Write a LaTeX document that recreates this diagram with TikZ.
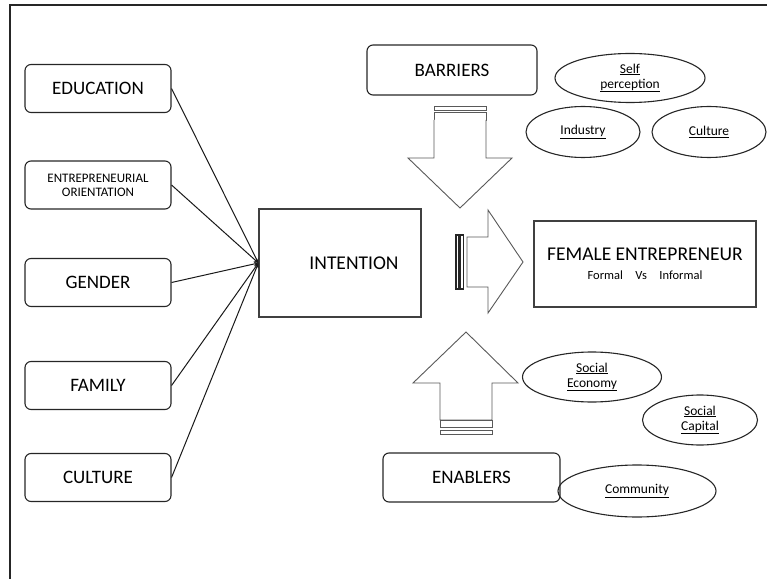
\documentclass[tikz,border=0pt]{standalone}
\usepackage{fontspec}
\setmainfont{Carlito}
\usetikzlibrary{shapes.geometric}
\tikzset{
	frame/.style={draw=black!85,line width=1.1pt},
	factor/.style={draw=black!85,line width=1.1pt,rounded corners=6pt,minimum width=146pt,minimum height=48pt,inner sep=2pt,align=center,font=\fontsize{19}{22}\selectfont},
	mainbox/.style={draw=black!75,line width=1.2pt,inner sep=2pt,align=center,font=\fontsize{19.5}{22}\selectfont},
	pill/.style={ellipse,draw=black!85,line width=1.1pt,inner sep=0pt,align=center,font=\fontsize{13.5}{15}\selectfont},
	block/.style={draw=black!65,line width=0.9pt,fill=white,line join=miter},
	link/.style={->,draw=black!90,line width=1pt}
}
\begin{document}
\begin{tikzpicture}[>=stealth,x=1pt,y=1pt]
	\useasboundingbox (0,0) rectangle (767,579);
	\draw[frame] (767,574)--(10,574)--(10,0);
	% left column
	\node[factor] (edu) at (98,490.5) {EDUCATION};
	\node[factor,font=\fontsize{13}{14}\selectfont] (orient) at (98,394) {ENTREPRENEURIAL\\ORIENTATION};
	\node[factor] (gender) at (98,296.5) {GENDER};
	\node[factor] (family) at (98,193.5) {FAMILY};
	\node[factor] (culture) at (98,101.5) {CULTURE};
	\node[mainbox,minimum width=162pt,minimum height=108pt] (intent) at (340,316) {\hspace*{28pt}INTENTION};
	\node[mainbox,minimum width=222pt,minimum height=86pt] (female) at (645,315) {FEMALE ENTREPRENEUR\\[-3pt]{\fontsize{12.5}{14}\selectfont Formal\quad Vs\quad Informal}};
	\foreach \n in {edu,orient,gender,family,culture}\draw[link] (\n.east)--(intent.west);
	% barriers
	\node[factor,minimum width=170pt,minimum height=50pt] (barr) at (452,509) {BARRIERS};
	\node[pill,minimum width=150pt,minimum height=49pt] (self) at (630,501) {\underline{Self}\\\underline{perception}};
	\node[pill,minimum width=114pt,minimum height=51pt] (industry) at (583,447) {\underline{Industry}};
	\node[pill,minimum width=114pt,minimum height=51pt] (cult) at (709,447) {\underline{Culture}};
	\draw[block] (434,473) rectangle (486,468.5);
	\draw[block] (434,466.5) rectangle (486,459);
	\draw[block] (434,459)--(434,421)--(408,421)--(460,371)--(512,421)--(486,421)--(486,459);
	% arrow to the outcome
	\draw[block,draw=black!85,line width=1.2pt] (456,344) rectangle (459,290);
	\draw[block,draw=black!85,line width=1.2pt] (460.5,344) rectangle (463.5,290);
	\draw[block] (467,342)--(488,342)--(488,369)--(523,317)--(488,266)--(488,292)--(467,292)--cycle;
	% enablers
	\node[factor,minimum width=177pt,minimum height=49pt] (enab) at (471.5,101.5) {ENABLERS};
	\node[pill,minimum width=139pt,minimum height=50pt] (soceco) at (592,202) {\underline{Social}\\\underline{Economy}};
	\node[pill,minimum width=115pt,minimum height=50pt] (soccap) at (700,159) {\underline{Social}\\\underline{Capital}};
	\node[pill,minimum width=158pt,minimum height=52pt] (comm) at (637,88) {\underline{Community}};
	\draw[block] (440,159)--(440,196)--(413,196)--(466,247)--(518,196)--(492,196)--(492,159)--cycle;
	\draw[block] (440,159) rectangle (492,152);
	\draw[block] (440,149) rectangle (492,145);
\end{tikzpicture}
\end{document}
